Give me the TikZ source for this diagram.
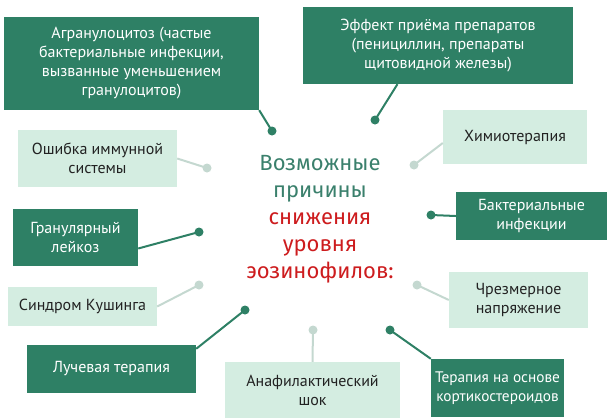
\documentclass[tikz,border=0pt]{standalone}
\usepackage{fontspec}
\setmainfont{Fira Sans}
\newfontfamily\boxfont{PT Sans}
\usetikzlibrary{calc}
\definecolor{boxdark}{RGB}{46,128,101}
\definecolor{boxlight}{RGB}{212,237,225}
\definecolor{linelight}{RGB}{196,216,208}
\definecolor{textgreen}{RGB}{58,128,108}
\definecolor{textred}{RGB}{205,28,30}
\definecolor{textdark}{RGB}{34,34,34}
\def\normaledge{2}
\tikzset{
  darkbox/.style={fill=boxdark, text=white, align=center, inner sep=0pt,
    font=\boxfont\fontsize{16}{19}\selectfont},
  lightbox/.style={fill=boxlight, text=textdark, align=center, inner sep=0pt,
    font=\boxfont\fontsize{16}{19}\selectfont},
}
\begin{document}
\begin{tikzpicture}[x = 1pt, y = -1pt]

            \useasboundingbox (0,0) rectangle (611,418);

            % boxes
            \node[darkbox, minimum width=255pt, minimum height=93pt] (agr) at (131.5,63.5)
                {Агранулоцитоз (частые\\бактериальные инфекции,\\вызванные уменьшением\\гранулоцитов)};
            \node[darkbox, minimum width=270pt, minimum height=77pt] (eff) at (438,45.5)
                {Эффект приёма препаратов\\(пенициллин, препараты\\щитовидной железы)};
            \node[lightbox, minimum width=144pt, minimum height=54pt] (him) at (515,137)
                {Химиотерапия};
            \node[lightbox, minimum width=159pt, minimum height=57pt] (osh) at (97.5,158.5)
                {Ошибка иммунной\\системы};
            \node[darkbox, minimum width=125pt, minimum height=57pt] (gran) at (75.5,237.5)
                {Гранулярный\\лейкоз};
            \node[darkbox, minimum width=151pt, minimum height=48pt] (bak) at (531.5,216)
                {Бактериальные\\инфекции};
            \node[lightbox, minimum width=149pt, minimum height=39pt] (kush) at (82.5,306.5)
                {Синдром Кушинга};
            \node[lightbox, minimum width=139pt, minimum height=56pt] (chr) at (518.5,300)
                {Чрезмерное\\напряжение};
            \node[darkbox, minimum width=169pt, minimum height=48pt] (luch) at (111.5,369)
                {Лучевая терапия};
            \node[lightbox, minimum width=175pt, minimum height=56pt] (anaf) at (312.5,390)
                {Анафилактический\\шок};
            \node[darkbox, minimum width=133pt, minimum height=58pt,
                font=\boxfont\fontsize{15.3}{19}\selectfont] (ter) at (497.5,388)
                {Терапия на основе\\кортикостероидов};

            % centre
            \node[align=center, font=\fontsize{22}{27}\selectfont] (title) at (320,219)
                {\textcolor{textgreen}{Возможные}\\\textcolor{textgreen}{причины}\\
                 \textcolor{textred}{снижения}\\\textcolor{textred}{уровня}\\
                 \textcolor{textred}{эозинофилов:}};

            % dots
            \coordinate (pagr) at (272,131);
            \coordinate (peff) at (375,120);
            \coordinate (phim) at (414,165);
            \coordinate (posh) at (207,168);
            \coordinate (pgran) at (199,232);
            \coordinate (pbak) at (431,215);
            \coordinate (pkush) at (199,285);
            \coordinate (pchr) at (417,285);
            \coordinate (pluch) at (245,310);
            \coordinate (panaf) at (313,330);
            \coordinate (pter) at (390,330);

            \draw [line width=\normaledge, color=boxdark] (agr.south east) -- (pagr);
            \draw [line width=\normaledge, color=boxdark] ($(eff.south west)!0.35!(eff.south east)$) -- (peff);
            \draw [line width=\normaledge, color=linelight] ($(him.west)+(0,6)$) -- (phim);
            \draw [line width=\normaledge, color=linelight] (osh.east) -- (posh);
            \draw [line width=\normaledge, color=boxdark] ($(gran.east)+(0,11)$) -- (pgran);
            \draw [line width=\normaledge, color=boxdark] (bak.west) -- (pbak);
            \draw [line width=\normaledge, color=linelight] (kush.east) -- (pkush);
            \draw [line width=\normaledge, color=linelight] (chr.west) -- (pchr);
            \draw [line width=\normaledge, color=boxdark] ($(luch.north east)+(0,4)$) -- (pluch);
            \draw [line width=\normaledge, color=linelight] (anaf.north) -- (panaf);
            \draw [line width=\normaledge, color=boxdark] (ter.north west) -- (pter);

            \fill [boxdark] (pagr) circle (4.5pt);
            \fill [boxdark] (peff) circle (4.5pt);
            \fill [linelight] (phim) circle (4.5pt);
            \fill [linelight] (posh) circle (4.5pt);
            \fill [boxdark] (pgran) circle (4.5pt);
            \fill [boxdark] (pbak) circle (4.5pt);
            \fill [linelight] (pkush) circle (4.5pt);
            \fill [linelight] (pchr) circle (4.5pt);
            \fill [boxdark] (pluch) circle (4.5pt);
            \fill [linelight] (panaf) circle (4.5pt);
            \fill [boxdark] (pter) circle (4.5pt);

\end{tikzpicture}
\end{document}
